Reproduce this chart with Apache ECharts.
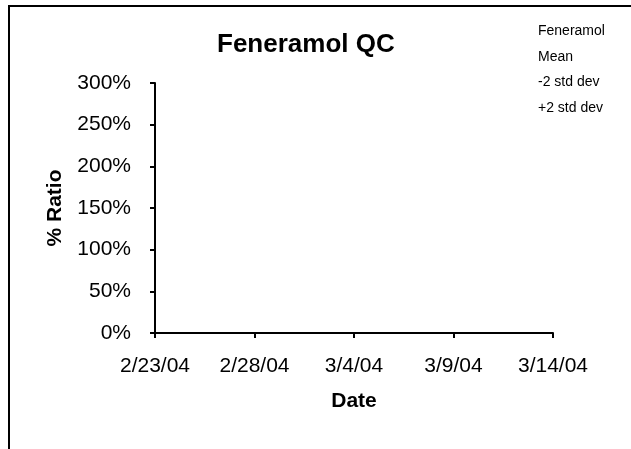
<!DOCTYPE html>
<html>
<head>
<meta charset="utf-8">
<script src="https://cdn.jsdelivr.net/npm/echarts@6/dist/echarts.min.js"></script>
<style>
html,body{margin:0;padding:0;background:#fff;}
#chart{width:631px;height:449px;}
</style>
</head>
<body>
<div id="chart"></div>
<script>
// Data (the reference chart shows no plotted points)
var seriesNames = ['Feneramol', 'Mean', '-2 std dev', '+2 std dev'];
var feneramol = [];
var mean = [];
var minus2sd = [];
var plus2sd = [];
var xTickLabels = ['2/23/04', '2/28/04', '3/4/04', '3/9/04', '3/14/04'];
var yTickValues = [0, 50, 100, 150, 200, 250, 300];

var FONT = "'Liberation Sans', Arial, sans-serif";
var chart = echarts.init(document.getElementById('chart'), null, {renderer: 'canvas'});
var seriesData = [feneramol, mean, minus2sd, plus2sd];

chart.setOption({
  animation: false,
  backgroundColor: '#fff',
  textStyle: {fontFamily: FONT, color: '#000'},
  graphic: [{
    type: 'rect',
    shape: {x: 9, y: 6, width: 800, height: 800},
    style: {fill: 'none', stroke: '#000', lineWidth: 2},
    silent: true
  }],
  title: {
    text: 'Feneramol QC',
    left: 217,
    top: 32,
    padding: 0,
    textStyle: {fontFamily: FONT, fontSize: 26, fontWeight: 'bold', color: '#000'}
  },
  legend: {
    orient: 'vertical',
    left: 533,
    top: 24,
    padding: 0,
    itemWidth: 0,
    itemHeight: 14,
    itemGap: 11.7,
    icon: 'rect',
    data: seriesNames,
    selectedMode: false,
    textStyle: {fontFamily: FONT, fontSize: 14, color: '#000'}
  },
  grid: {left: 155, top: 83, width: 398, height: 250, containLabel: false},
  xAxis: {
    type: 'value',
    min: 0,
    max: 20,
    interval: 5,
    name: 'Date',
    nameLocation: 'middle',
    nameGap: 58,
    nameTextStyle: {fontFamily: FONT, fontSize: 21, fontWeight: 'bold', color: '#000'},
    axisLine: {show: true, onZero: false, lineStyle: {color: '#000', width: 2}},
    axisTick: {show: true, inside: false, length: 5, lineStyle: {color: '#000', width: 2}},
    axisLabel: {
      margin: 23,
      fontFamily: FONT, fontSize: 21, color: '#000',
      formatter: function (v) { return xTickLabels[Math.round(v / 5)] || ''; }
    },
    splitLine: {show: false}
  },
  yAxis: {
    type: 'value',
    min: 0,
    max: 300,
    interval: 50,
    name: '% Ratio',
    nameLocation: 'middle',
    nameGap: 89,
    nameRotate: 90,
    nameTextStyle: {fontFamily: FONT, fontSize: 21, fontWeight: 'bold', color: '#000'},
    axisLine: {show: true, lineStyle: {color: '#000', width: 2}},
    axisTick: {show: true, inside: false, length: 5, lineStyle: {color: '#000', width: 2}},
    axisLabel: {
      margin: 24,
      fontFamily: FONT, fontSize: 21, color: '#000',
      formatter: function (v) { return v + '%'; }
    },
    splitLine: {show: false}
  },
  series: seriesNames.map(function (n, i) {
    return {
      name: n,
      type: 'line',
      data: seriesData[i].map(function (d) { return [d[0], d[1]]; }),
      symbol: 'none',
      lineStyle: {color: '#000', width: 1},
      itemStyle: {color: '#000'}
    };
  })
});
</script>
</body>
</html>
